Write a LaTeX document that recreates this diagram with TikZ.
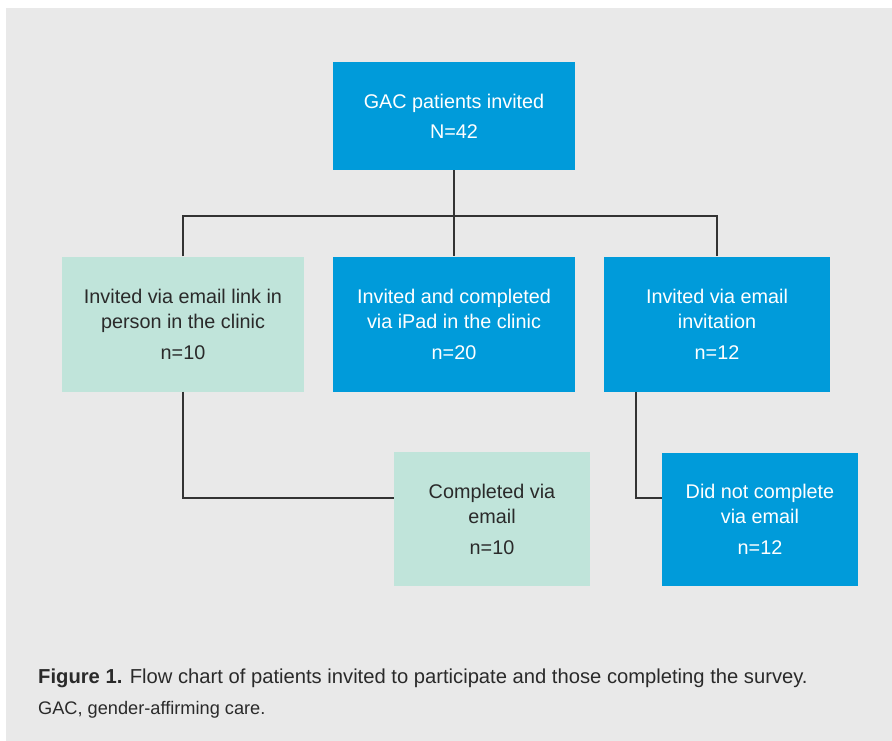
\documentclass[tikz,border=0pt]{standalone}
\usepackage{fontspec}
\setmainfont{Liberation Sans}
\usetikzlibrary{calc}
\definecolor{panel}{HTML}{E9E9E9}
\definecolor{bluebox}{HTML}{009BDA}
\definecolor{greenbox}{HTML}{C0E4DA}
\definecolor{lineclr}{HTML}{333333}
\definecolor{darktext}{HTML}{2A2A2A}
\begin{document}
\begin{tikzpicture}[x=1pt,y=-1pt,
  boxbase/.style={rectangle, inner sep=0pt, align=center,
    font=\fontsize{19.8}{25}\selectfont},
  bluenode/.style={boxbase, fill=bluebox, text=white},
  greennode/.style={boxbase, fill=greenbox, text=darktext},
  conn/.style={draw=lineclr, line width=1.5pt}]
\useasboundingbox (0,0) rectangle (892,741);
\fill[white] (0,0) rectangle (892,741);
\fill[panel] (6,8) rectangle (892,741);

\node[bluenode, minimum width=242pt, minimum height=108pt] (top) at (454,116)
  {GAC patients invited\\[5pt]N=42};
\node[greennode, minimum width=242pt, minimum height=135pt] (L) at (183,324)
  {Invited via email link in\\person in the clinic\\[6pt]n=10};
\node[bluenode, minimum width=242pt, minimum height=135pt] (M) at (454,324)
  {Invited and completed\\via iPad in the clinic\\[6pt]n=20};
\node[bluenode, minimum width=226pt, minimum height=135pt] (R) at (717,324)
  {Invited via email\\invitation\\[6pt]n=12};
\node[greennode, minimum width=196pt, minimum height=134pt] (BM) at (492,519)
  {Completed via\\email\\[6pt]n=10};
\node[bluenode, minimum width=196pt, minimum height=133pt] (BR) at (760,519)
  {Did not complete\\via email\\[6pt]n=12};

\coordinate (hub) at (454,216);
\draw[conn] (top.south) -- (M.north);
\draw[conn] (L.north) |- (hub) -| (R.north);
\draw[conn] (L.south) |- ([yshift=21pt]BM.west);
\draw[conn] ([xshift=32pt]R.south west) |- ([yshift=21pt]BR.west);

\node[anchor=base west, inner sep=0pt, text=darktext,
  font=\fontsize{20.2}{24}\selectfont] (cap1) at (38,683)
  {\textbf{Figure 1.} Flow chart of patients invited to participate and those completing the survey.};
\node[anchor=base west, inner sep=0pt, text=darktext,
  font=\fontsize{18.2}{22}\selectfont] (cap2) at (38,714)
  {GAC, gender-affirming care.};
\end{tikzpicture}
\end{document}
